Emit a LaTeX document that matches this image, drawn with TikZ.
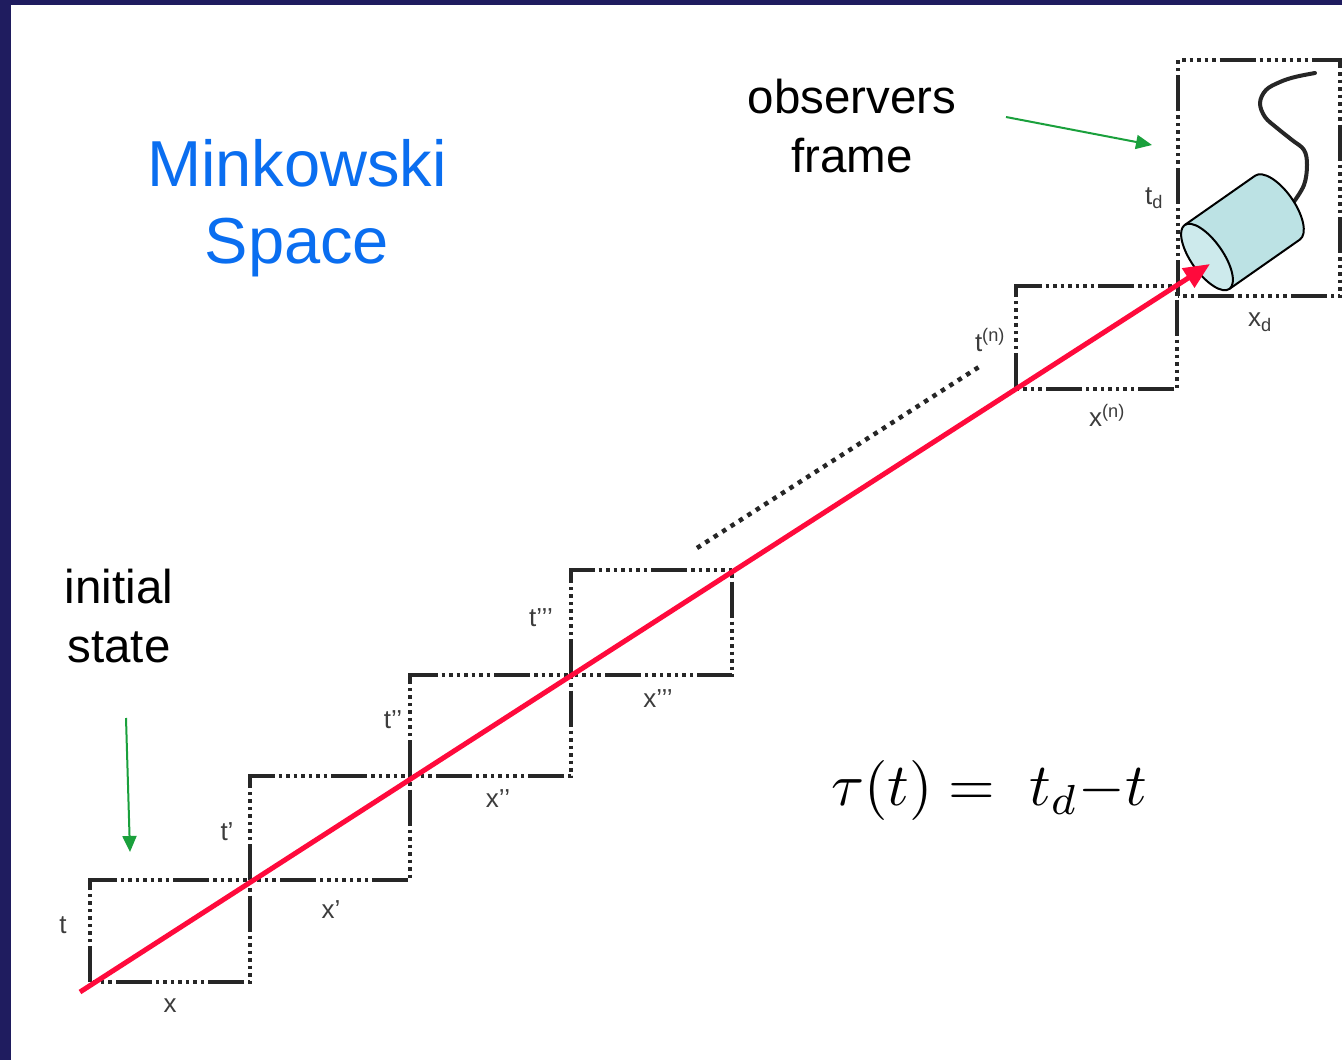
\documentclass[tikz,border=0pt]{standalone}
\usepackage[no-math]{fontspec}
\setmainfont{Liberation Sans}
\usepackage{graphicx}
\usetikzlibrary{arrows.meta}

\definecolor{navy}{HTML}{1F1C5F}
\definecolor{titleblue}{HTML}{0A6EF0}
\definecolor{raygreen}{HTML}{1AA03C}
\definecolor{worldred}{HTML}{FF0A3C}
\definecolor{gridgrey}{HTML}{262626}
\definecolor{labelgrey}{HTML}{3C3C3C}
\definecolor{cylbody}{HTML}{BCE2E4}
\definecolor{cylface}{HTML}{CDEAEC}

\tikzset{
  cell/.style={draw=gridgrey, line width=4pt,
    dash pattern=on 36pt off 4pt on 3.5pt off 4pt on 3.5pt off 4pt on 3.5pt off 4pt
      on 3.5pt off 4pt on 3.5pt off 4pt on 3.5pt off 4pt on 3.5pt off 4pt},
  axislabel/.style={text=labelgrey, font=\fontsize{26}{28}\selectfont, inner sep=0pt},
  note/.style={font=\fontsize{47.5}{59}\selectfont, align=center, inner sep=0pt},
  pointer/.style={draw=raygreen, line width=2pt, -{Triangle[length=16pt,width=14pt]}},
  worldline/.style={draw=worldred, line width=5pt, -{Triangle[length=26pt,width=22pt]}},
  ellipsis/.style={draw=gridgrey, line width=4.5pt, dash pattern=on 4.5pt off 5.5pt},
  cable/.style={draw=black!85, line width=4pt, line cap=round, line join=round},
}

\begin{document}
\begin{tikzpicture}[x=1pt, y=-1pt]
  \useasboundingbox (0,0) rectangle (1342,1060);
  \fill[white] (0,0) rectangle (1342,1060);
  % slide frame
  \fill[navy] (0,0) rectangle (11,1060);
  \fill[navy] (0,0) rectangle (1342,5);

  % grid cells along the world line
  \coordinate (b1sw) at (90,982);   \coordinate (b1ne) at (250,880);
  \coordinate (b2sw) at (250,880);  \coordinate (b2ne) at (410,776);
  \coordinate (b3sw) at (410,776);  \coordinate (b3ne) at (571,675);
  \coordinate (b4sw) at (571,675);  \coordinate (b4ne) at (732,570);
  \coordinate (bnsw) at (1016,389); \coordinate (bnne) at (1177,286);
  \coordinate (bdsw) at (1178,296); \coordinate (bdne) at (1340,60);
  \foreach \b in {b1,b2,b3,b4,bn,bd}
    \draw[cell] (\b sw) rectangle (\b ne);

  % continuation dots
  \coordinate (dotsA) at (697,548);
  \coordinate (dotsB) at (982,365);
  \draw[ellipsis] (dotsA) -- (dotsB);

  % detector cable
  \draw[cable] plot[smooth, tension=0.6] coordinates {
    (1293,203) (1304,185) (1307,165) (1304,150) (1292,140) (1277,128)
    (1265,117) (1260,103) (1266,90) (1280,82) (1295,77) (1315,73)};

  % detector cylinder
  \begin{scope}[shift={(1207,257)}, rotate=35]
    \filldraw[fill=cylbody, draw=black, line width=2pt, line join=round]
      (0,-39) -- (86,-39) arc[start angle=-90, end angle=90, x radius=17, y radius=39]
      -- (0,39) -- cycle;
    \filldraw[fill=cylface, draw=black, line width=2pt]
      (0,0) ellipse[x radius=16, y radius=39];
  \end{scope}

  % world line
  \coordinate (start) at (80,992);
  \coordinate (tip) at (1210,264);
  \draw[worldline] (start) -- (tip);

  % axis labels
  \node[axislabel] (lt0) at (63,925) {t};
  \node[axislabel] (lx0) at (170,1006) {x};
  \node[axislabel] (lt1) at (227,832) {t’};
  \node[axislabel] (lx1) at (331,910) {x’};
  \node[axislabel] (lt2) at (393,720) {t’’};
  \node[axislabel] (lx2) at (498,799) {x’’};
  \node[axislabel] (lt3) at (541,618) {t’’’};
  \node[axislabel] (lx3) at (658,699) {x’’’};
  \node[axislabel] (ltn) at (990,340) {t\textsuperscript{(n)}};
  \node[axislabel] (lxn) at (1107,415) {x\textsuperscript{(n)}};
  \node[axislabel] (ltd) at (1154,198) {t\textsubscript{d}};
  \node[axislabel] (lxd) at (1260,322) {x\textsubscript{d}};

  % headings and notes
  \node[note, text=titleblue, font=\fontsize{65}{77}\selectfont] (title) at (297,208) {Minkowski\\Space};
  \node[note] (obs) at (852,126) {observers\\frame};
  \node[note] (init) at (119,616) {initial\\state};

  % pointers
  \coordinate (obsFrom) at (1006,117);
  \coordinate (obsTo) at (1152,145);
  \draw[pointer] (obsFrom) -- (obsTo);
  \coordinate (initFrom) at (126,718);
  \coordinate (initTo) at (130,852);
  \draw[pointer] (initFrom) -- (initTo);

  % proper time relation
  \node[inner sep=0pt] (tau) at (989,790) {\scalebox{6}{$\tau(t) =\; t_d{-}t$}};
\end{tikzpicture}
\end{document}
